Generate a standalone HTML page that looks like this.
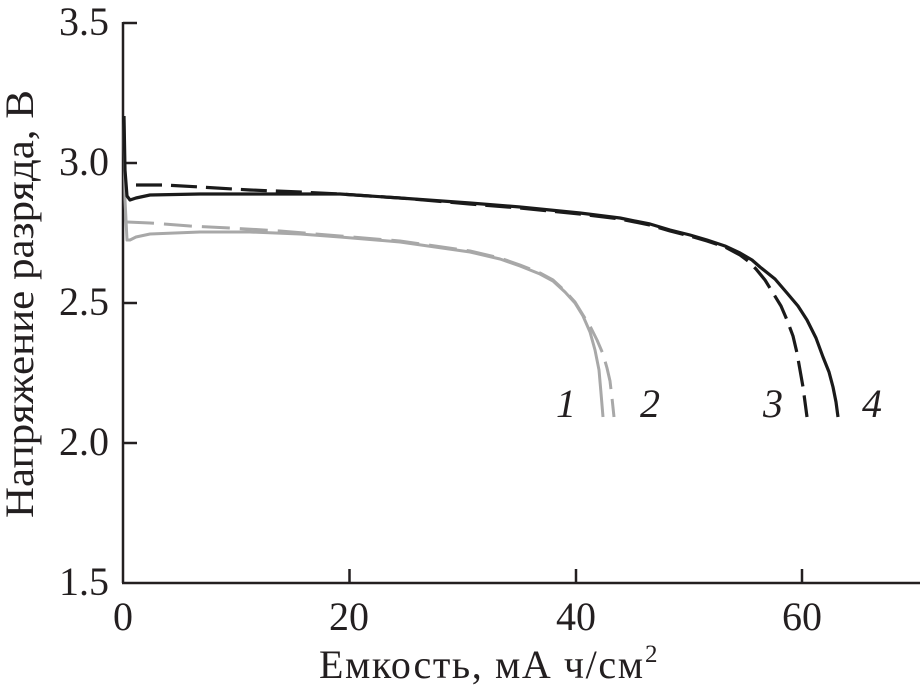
<!DOCTYPE html>
<html>
<head>
<meta charset="utf-8">
<style>
html,body{margin:0;padding:0;background:#fff;}
svg{display:block;}
text{font-family:"Liberation Serif",serif;fill:#231f20;}
</style>
</head>
<body>
<svg width="920" height="693" viewBox="0 0 920 693" xmlns="http://www.w3.org/2000/svg">
  <!-- axes -->
  <g stroke="#231f20" stroke-width="2.5" fill="none">
    <line x1="123" y1="22" x2="123" y2="583"/>
    <line x1="122" y1="583" x2="920" y2="583"/>
    <line x1="123" y1="23" x2="137" y2="23"/>
    <line x1="123" y1="163" x2="137" y2="163"/>
    <line x1="123" y1="303" x2="137" y2="303"/>
    <line x1="123" y1="443" x2="137" y2="443"/>
    <line x1="349.5" y1="569" x2="349.5" y2="583"/>
    <line x1="576" y1="569" x2="576" y2="583"/>
    <line x1="802" y1="569" x2="802" y2="583"/>
  </g>
  <!-- y tick labels -->
  <g font-size="40" text-anchor="end">
    <text x="109" y="35">3.5</text>
    <text x="109" y="175">3.0</text>
    <text x="109" y="315">2.5</text>
    <text x="109" y="455">2.0</text>
    <text x="109" y="595">1.5</text>
  </g>
  <!-- x tick labels -->
  <g font-size="40" text-anchor="middle">
    <text x="123" y="630">0</text>
    <text x="349" y="630">20</text>
    <text x="576" y="630">40</text>
    <text x="802" y="630">60</text>
  </g>
  <!-- axis titles -->
  <text x="319" y="678" font-size="40" textLength="324" lengthAdjust="spacing">Емкость, мА ч/см</text>
  <text x="645" y="662" font-size="25">2</text>
  <text transform="translate(33,304) rotate(-90)" font-size="40" text-anchor="middle" textLength="428" lengthAdjust="spacingAndGlyphs">Напряжение разряда, В</text>

  <!-- gray curves -->
  <polyline fill="none" stroke="#a8a8a8" stroke-width="3" stroke-linejoin="round"
    points="124,120 125,200 127,240 130,240 136,237 150,234 200,232 250,232 300,234 340,237 400,242 470,252 500,259 520,266 540,274 553,281 565,292 575,303 583,316 590,332 595,350 599,370 601,393 603,417"/>
  <polyline fill="none" stroke="#a8a8a8" stroke-width="3" stroke-dasharray="28,10" stroke-linejoin="round"
    points="126,222 150,223 190,226 230,228 280,231 340,236 400,241 470,251 500,258 520,265 540,273 553,280 565,291 575,302 583,315 591,328 597,340 603,354 607,368 610,381 612,398 614,417"/>

  <!-- black curves -->
  <polyline fill="none" stroke="#1a1a1a" stroke-width="3.2" stroke-linejoin="round"
    points="124,116 125,170 127,196 130,200 136,198 150,195 200,194 300,194 340,194 400,198 470,203 520,207 580,213 620,218 650,224 670,230 690,235 707,240 725,246 740,253 752,260 760,267 775,279 787,293 798,306 807,320 816,338 823,357 829,372 833,387 836,402 838,417"/>
  <polyline fill="none" stroke="#1a1a1a" stroke-width="3.2" stroke-dasharray="26,9" stroke-linejoin="round"
    points="136,185 165,185 200,187 250,190 300,192 340,194 400,198 470,204 520,208 580,214 620,219 650,225 670,231 690,236 707,241 725,247 740,255 748,261 756,269 765,280 773,293 781,306 787,320 793,336 797,353 800,370 803,387 805,402 807,417"/>

  <!-- curve labels -->
  <g font-size="40" font-style="italic" text-anchor="middle">
    <text x="566" y="417">1</text>
    <text x="650" y="417">2</text>
    <text x="773" y="417">3</text>
    <text x="872" y="417">4</text>
  </g>
</svg>
</body>
</html>
